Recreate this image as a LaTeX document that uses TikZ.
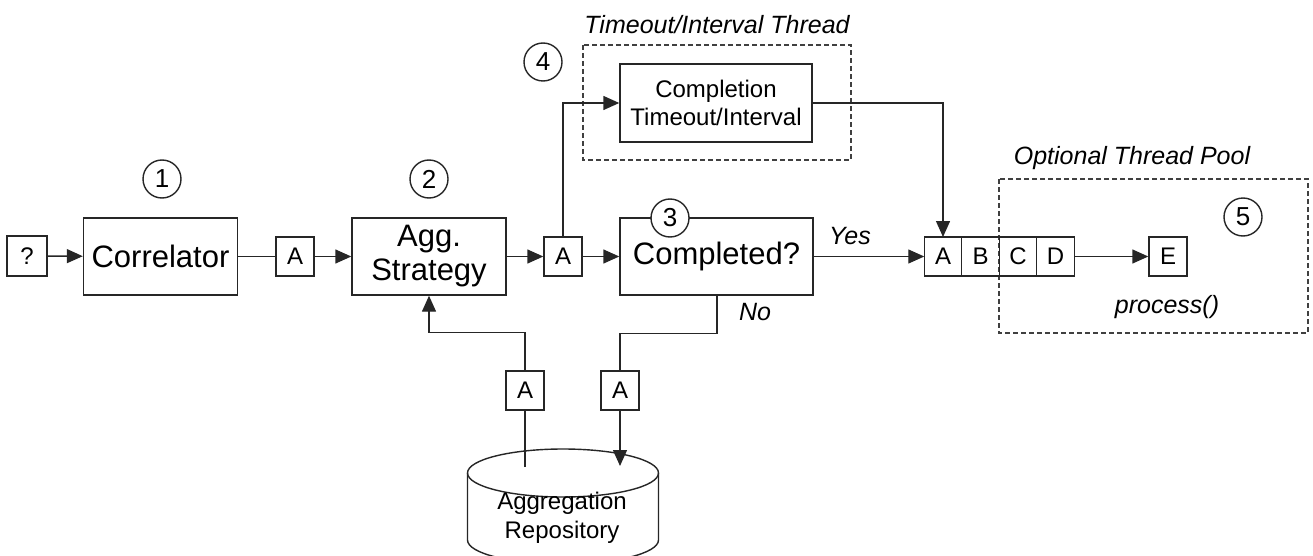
\documentclass[tikz,border=0pt]{standalone}
\usepackage{fontspec}
\setmainfont{Liberation Sans}
\usetikzlibrary{arrows.meta,positioning}

\tikzset{
  box/.style={draw,minimum width=154pt,minimum height=77pt,inner sep=2pt,align=center,
    font=\fontsize{31}{34}\selectfont},
  tok/.style={draw,minimum width=38pt,minimum height=39pt,inner sep=0pt,
    font=\fontsize{24}{26}\selectfont},
  cell/.style={tok,minimum width=37.5pt,outer sep=0pt},
  numc/.style={draw,circle,fill=white,minimum size=38pt,inner sep=0pt,
    font=\fontsize{26}{28}\selectfont},
  frame/.style={draw=black!75,dash pattern=on 5pt off 3pt},
  lbl/.style={font=\fontsize{25}{28}\selectfont\itshape}
}

\begin{document}
\begin{tikzpicture}[x=1pt,y=-1pt,>={Triangle[length=16pt,width=14pt]},line width=1.4pt,draw=black!85]
\useasboundingbox (0,0) rectangle (1313,556);
% threads
\draw[frame] (583,45) rectangle (851,160);
\node[lbl] (ttitle) at (717,25) {Timeout/Interval Thread};
\draw[frame] (999,179) rectangle (1308,333);
\node[lbl] (ptitle) at (1132,158) {Optional Thread Pool};
% repository
\begin{scope}
\clip (0,0) rectangle (1313,556);
\draw[fill=white] (467.5,473) -- (467.5,540) arc[start angle=180,end angle=0,x radius=95.5,y radius=24] -- (658.5,473);
\draw (563,473) ellipse [x radius=95.5,y radius=24];
\end{scope}
\node[align=center,font=\fontsize{24}{29}\selectfont] (repo) at (562,518) {Aggregation\\Repository};
\coordinate (dbL) at (525,467);
\coordinate (dbR) at (620,466);
% main flow
\node[tok,minimum width=40pt,minimum height=40pt] (q) at (27,256) {?};
\node[box] (corr) at (160.5,256.5) {Correlator};
\node[tok] (a1) at (295,256.5) {A};
\node[box] (agg) at (429,256.5) {Agg.\\Strategy};
\node[tok] (a2) at (563,256.5) {A};
\node[box,minimum width=193pt] (comp) at (716.5,256.5) {Completed?};
\node[box,minimum width=192pt,minimum height=78pt,font=\fontsize{24}{28}\selectfont] (tmo) at (716,103) {Completion\\Timeout/Interval};
\node[cell] (qa) at (943,256.5) {A};
\node[cell] (qb) at (980.5,256.5) {B};
\node[cell] (qc) at (1018,256.5) {C};
\node[cell] (qd) at (1055.5,256.5) {D};
\node[tok] (e) at (1168,256.5) {E};
\node[tok] (al) at (525,390.5) {A};
\node[tok] (ar) at (620,390.5) {A};
% numbers
\node[numc] (n1) at (162,179) {1};
\node[numc] (n2) at (429,179) {2};
\node[numc] (n3) at (670,218) {3};
\node[numc] (n4) at (543,62) {4};
\node[numc] (n5) at (1243,217) {5};
% labels
\node[lbl] (yes) at (850,236) {Yes};
\node[lbl] (no) at (755,312) {No};
\node[lbl] (proc) at (1167,307) {process()};
% connectors
\draw[->] (q) -- (corr);
\draw (corr) -- (a1);
\draw[->] (a1) -- (agg);
\draw[->] (agg) -- (a2);
\draw[->] (a2) -- (comp);
\draw[->] (a2.north) |- (tmo.west);
\draw[->] (tmo.east) -| (qa.north);
\draw[->] (comp) -- (qa);
\draw[->] (qd) -- (e);
\draw (comp.south -| 717,0) -- ++(0,38) -| (ar.north);
\draw[->] (ar.south) -- (dbR);
\draw (dbL) -- (al.south);
\draw[->] (al.north) -- ++(0,-38) -| (agg.south);
\end{tikzpicture}
\end{document}
